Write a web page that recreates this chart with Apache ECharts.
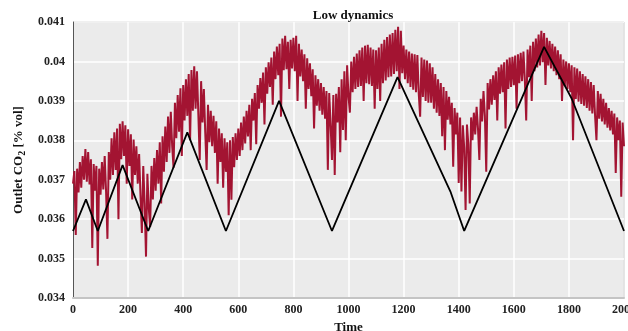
<!DOCTYPE html>
<html>
<head>
<meta charset="utf-8">
<script src="https://cdn.jsdelivr.net/npm/echarts@6/dist/echarts.min.js"></script>
<style>
  html, body { margin: 0; padding: 0; background: #fff; }
  #chart { width: 628px; height: 331px; }
</style>
</head>
<body>
<div id="chart"></div>
<script>
  // x ticks / y ticks
  const timeTicks = [0, 200, 400, 600, 800, 1000, 1200, 1400, 1600, 1800, 2000]
  const co2Ticks = [0.034, 0.035, 0.036, 0.037, 0.038, 0.039, 0.04, 0.041]

  // black reference line: corner points [time, value]
  const refTime = [0, 47, 90, 180, 273, 415, 555, 748, 940, 1178, 1370, 1420, 1710, 1810, 2000]
  const refValue = [0.0357, 0.0365, 0.0357, 0.03737, 0.0357, 0.0382, 0.0357, 0.0390, 0.0357, 0.0396, 0.0367, 0.0357, 0.04037, 0.03906, 0.0357]

  // measured outlet CO2, one sample every 5 time units (0..2000)
  const measStep = 5
  const measValue = [
    0.03690, 0.03722, 0.03560, 0.03728, 0.03668, 0.03745, 0.03680, 0.03760, 0.03700, 0.03778,
    0.03695, 0.03770, 0.03688, 0.03752, 0.03527, 0.03740, 0.03672, 0.03735, 0.03482, 0.03728,
    0.03662, 0.03745, 0.03675, 0.03760, 0.03670, 0.03550, 0.03770, 0.03700, 0.03805, 0.03712,
    0.03820, 0.03725, 0.03830, 0.03600, 0.03842, 0.03752, 0.03848, 0.03760, 0.03838, 0.03690,
    0.03828, 0.03735, 0.03815, 0.03650, 0.03802, 0.03712, 0.03785, 0.03690, 0.03765, 0.03660,
    0.03565, 0.03735, 0.03640, 0.03505, 0.03715, 0.03628, 0.03580, 0.03735, 0.03650, 0.03755,
    0.03672, 0.03775, 0.03690, 0.03795, 0.03640, 0.03810, 0.03720, 0.03835, 0.03745, 0.03860,
    0.03768, 0.03872, 0.03785, 0.03730, 0.03895, 0.03805, 0.03915, 0.03822, 0.03932, 0.03760,
    0.03940, 0.03850, 0.03955, 0.03862, 0.03968, 0.03800, 0.03978, 0.03875, 0.03988, 0.03880,
    0.03975, 0.03865, 0.03750, 0.03950, 0.03845, 0.03930, 0.03820, 0.03725, 0.03890, 0.03795,
    0.03875, 0.03785, 0.03862, 0.03768, 0.03848, 0.03690, 0.03830, 0.03745, 0.03818, 0.03680,
    0.03805, 0.03720, 0.03795, 0.03610, 0.03800, 0.03649, 0.03808, 0.03732, 0.03818, 0.03750,
    0.03830, 0.03760, 0.03845, 0.03775, 0.03860, 0.03792, 0.03875, 0.03810, 0.03890, 0.03775,
    0.03905, 0.03850, 0.03920, 0.03790, 0.03940, 0.03880, 0.03958, 0.03895, 0.03972, 0.03840,
    0.03985, 0.03918, 0.03998, 0.03935, 0.04010, 0.03890, 0.04025, 0.03955, 0.04038, 0.03965,
    0.04045, 0.03860, 0.04058, 0.03978, 0.04065, 0.03980, 0.04050, 0.03930, 0.04055, 0.03982,
    0.04060, 0.03975, 0.04065, 0.03900, 0.04045, 0.03962, 0.04030, 0.03950, 0.04018, 0.03880,
    0.04008, 0.03930, 0.03995, 0.03912, 0.03980, 0.03830, 0.03965, 0.03888, 0.03955, 0.03875,
    0.03945, 0.03865, 0.03935, 0.03855, 0.03925, 0.03725, 0.03920, 0.03840, 0.03750, 0.03915,
    0.03712, 0.03918, 0.03845, 0.03935, 0.03770, 0.03955, 0.03826, 0.03975, 0.03800, 0.03990,
    0.03912, 0.03870, 0.04000, 0.03922, 0.04012, 0.03930, 0.04020, 0.03935, 0.04028, 0.03938,
    0.04035, 0.03900, 0.04040, 0.03945, 0.04042, 0.03942, 0.04035, 0.03938, 0.04030, 0.03880,
    0.04028, 0.03930, 0.04035, 0.03900, 0.04045, 0.03945, 0.04055, 0.03952, 0.04062, 0.03960,
    0.04068, 0.03962, 0.04072, 0.03968, 0.04080, 0.03975, 0.04088, 0.03930, 0.04078, 0.03970,
    0.04040, 0.03955, 0.04030, 0.03945, 0.04025, 0.03935, 0.04020, 0.03928, 0.04018, 0.03922,
    0.04016, 0.03918, 0.03860, 0.04010, 0.03910, 0.04005, 0.03900, 0.04002, 0.03895, 0.03995,
    0.03895, 0.03985, 0.03880, 0.03968, 0.03870, 0.03955, 0.03862, 0.03945, 0.03810, 0.03935,
    0.03775, 0.03925, 0.03852, 0.03910, 0.03840, 0.03895, 0.03733, 0.03882, 0.03815, 0.03870,
    0.03692, 0.03858, 0.03670, 0.03838, 0.03780, 0.03623, 0.03840, 0.03790, 0.03640, 0.03858,
    0.03800, 0.03870, 0.03815, 0.03885, 0.03830, 0.03750, 0.03905, 0.03848, 0.03925, 0.03862,
    0.03720, 0.03945, 0.03878, 0.03955, 0.03890, 0.03965, 0.03902, 0.03975, 0.03850, 0.03985,
    0.03918, 0.03992, 0.03922, 0.03998, 0.03830, 0.04005, 0.03930, 0.04010, 0.03935, 0.04012,
    0.03940, 0.04015, 0.03880, 0.04018, 0.03945, 0.04022, 0.03950, 0.04025, 0.03955, 0.03850,
    0.04030, 0.03960, 0.04040, 0.03900, 0.04050, 0.03975, 0.04058, 0.03985, 0.04068, 0.03990,
    0.04078, 0.03998, 0.04072, 0.03940, 0.04060, 0.03990, 0.04052, 0.03982, 0.04045, 0.03975,
    0.04038, 0.03965, 0.04028, 0.03955, 0.04018, 0.03900, 0.04005, 0.03938, 0.04000, 0.03930,
    0.03995, 0.03922, 0.03990, 0.03800, 0.03985, 0.03905, 0.03982, 0.03898, 0.03975, 0.03892,
    0.03968, 0.03888, 0.03962, 0.03882, 0.03955, 0.03875, 0.03948, 0.03868, 0.03940, 0.03862,
    0.03800, 0.03925, 0.03855, 0.03918, 0.03848, 0.03905, 0.03840, 0.03895, 0.03832, 0.03882,
    0.03825, 0.03875, 0.03815, 0.03868, 0.03717, 0.03858, 0.03800, 0.03850, 0.03657, 0.03845,
    0.03785
  ]

  const measData = measValue.map((v, i) => [i * measStep, v])
  const refData = refTime.map((t, i) => [t, refValue[i]])

  const chart = echarts.init(document.getElementById('chart'), null, { renderer: 'canvas' })
  const font = 'Liberation Serif'

  chart.setOption({
    animation: false,
    backgroundColor: '#fff',
    title: {
      text: 'Low dynamics',
      left: 348,
      textAlign: 'center',
      top: 4,
      textStyle: { fontFamily: font, fontSize: 13, fontWeight: 'bold', color: '#111' }
    },
    grid: {
      left: 73, right: 4, top: 22, bottom: 33,
      outerBoundsMode: 'none',
      show: true, backgroundColor: '#ebebeb', borderWidth: 0
    },
    xAxis: {
      type: 'value',
      min: timeTicks[0],
      max: timeTicks[timeTicks.length - 1],
      interval: 200,
      name: 'Time',
      nameLocation: 'middle',
      nameGap: 20,
      nameTextStyle: { fontFamily: font, fontSize: 13, fontWeight: 'bold', color: '#111' },
      axisLine: { show: true, lineStyle: { color: '#c4c4c4', width: 2 } },
      axisTick: { show: false },
      axisLabel: { fontFamily: font, fontSize: 12, fontWeight: 'bold', color: '#222', margin: 6,
        formatter: v => String(v) },
      splitLine: { show: true, lineStyle: { color: '#fff', width: 1.5 } }
    },
    yAxis: {
      type: 'value',
      min: co2Ticks[0],
      max: co2Ticks[co2Ticks.length - 1],
      interval: 0.001,
      name: 'Outlet CO{sub|2} [% vol]',
      nameLocation: 'middle',
      nameGap: 38,
      nameTextStyle: {
        fontFamily: font, fontSize: 13, fontWeight: 'bold', color: '#111',
        rich: { sub: { fontFamily: font, fontSize: 10, fontWeight: 'bold', color: '#111', verticalAlign: 'bottom', padding: [6, 0, 0, 0] } }
      },
      axisLine: { show: true, lineStyle: { color: '#555', width: 1 } },
      axisTick: { show: false },
      axisLabel: { fontFamily: font, fontSize: 12, fontWeight: 'bold', color: '#222', margin: 8,
        formatter: v => String(+v.toFixed(3)) },
      splitLine: { show: true, lineStyle: { color: '#fff', width: 1.5 } }
    },
    series: [
      {
        name: 'measured',
        type: 'line',
        data: measData,
        showSymbol: false,
        lineStyle: { color: '#a31432', width: 2 },
        z: 2
      },
      {
        name: 'reference',
        type: 'line',
        data: refData,
        showSymbol: false,
        lineStyle: { color: '#000', width: 1.8 },
        z: 3
      }
    ],
    graphic: [
      // top frame line and right edge like the original plot box
      { type: 'line', shape: { x1: 73, y1: 22, x2: 624, y2: 22 }, style: { stroke: '#c4c4c4', lineWidth: 2 } },
      { type: 'line', shape: { x1: 624, y1: 22, x2: 624, y2: 298 }, style: { stroke: '#333', lineWidth: 1 } }
    ]
  })
</script>
</body>
</html>
